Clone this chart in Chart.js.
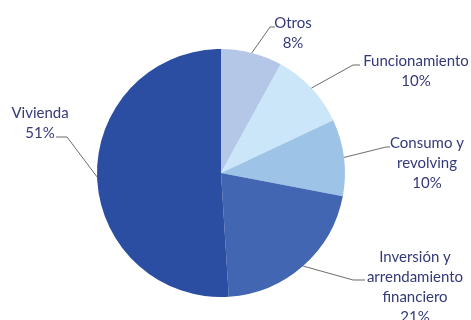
<!DOCTYPE html>
<html>
<head>
<meta charset="utf-8">
<script src="https://cdn.jsdelivr.net/npm/chart.js@4"></script>
<style>
    html, body { margin: 0; padding: 0; background: #fff; }
    canvas { display: block; }
</style>
</head>
<body>
<canvas id="chartCartera" width="471" height="320"></canvas>
<script>
// datos (porcentajes, en sentido horario desde arriba)
const categorias = ["Otros", "Funcionamiento", "Consumo y revolving", "Inversión y arrendamiento financiero", "Vivienda"];
const valores = [8, 10, 10, 21, 51];
const colores = ['#b4c7e7', '#cce6f9', '#9dc3e6', '#4266b2', '#2b4ea2'];

// texto de cada etiqueta, una linea por elemento
const etiquetas = [
    ["Otros", "8%"],
    ["Funcionamiento", "10%"],
    ["Consumo y", "revolving", "10%"],
    ["Inversión y", "arrendamiento", "financiero", "21%"],
    ["Vivienda", "51%"]
];

// posicion de las etiquetas y de los codos de las lineas guia
const posEtiquetas = [
    { cx: 293, y: 23, codo: [270, 27], fin: [275, 27] },
    { cx: 416, y: 61, codo: [353, 65], fin: [360, 65] },
    { cx: 427, y: 143, codo: [386, 147], fin: [390, 147] },
    { cx: 415, y: 257, codo: [353, 280], fin: [365, 280] },
    { cx: 40, y: 113, codo: [67, 137], fin: [56, 137] }
];

const colorTexto = '#343a78';
const colorLinea = '#6b6b6b';

const etiquetasPlugin = {
    id: 'etiquetasPastel',
    afterDatasetsDraw(chart) {
        const ctx = chart.ctx;
        const meta = chart.getDatasetMeta(0);
        ctx.save();
        meta.data.forEach((arc, i) => {
            const p = arc.getProps(['x', 'y', 'startAngle', 'endAngle', 'outerRadius'], true);
            const medio = (p.startAngle + p.endAngle) / 2;
            const x0 = p.x + Math.cos(medio) * p.outerRadius;
            const y0 = p.y + Math.sin(medio) * p.outerRadius;
            const pos = posEtiquetas[i];

            // linea guia
            ctx.strokeStyle = colorLinea;
            ctx.lineWidth = 1;
            ctx.beginPath();
            ctx.moveTo(x0, y0);
            ctx.lineTo(pos.codo[0], pos.codo[1]);
            ctx.lineTo(pos.fin[0], pos.fin[1]);
            ctx.stroke();

            // texto
            ctx.fillStyle = colorTexto;
            ctx.font = '15px Lato, "Open Sans", sans-serif';
            ctx.textAlign = 'center';
            ctx.textBaseline = 'middle';
            etiquetas[i].forEach((linea, j) => {
                ctx.fillText(linea, pos.cx, pos.y + j * 20);
            });
        });
        ctx.restore();
    }
};

const ctx = document.getElementById('chartCartera').getContext('2d');
new Chart(ctx, {
    type: 'pie',
    data: {
        labels: categorias,
        datasets: [{
            data: valores,
            backgroundColor: colores,
            borderWidth: 0
        }]
    },
    options: {
        responsive: false,
        animation: false,
        devicePixelRatio: 1,
        layout: {
            padding: { left: 97, right: 126, top: 49, bottom: 23 }
        },
        plugins: {
            legend: { display: false },
            tooltip: { enabled: false }
        }
    },
    plugins: [etiquetasPlugin]
});
</script>
</body>
</html>
